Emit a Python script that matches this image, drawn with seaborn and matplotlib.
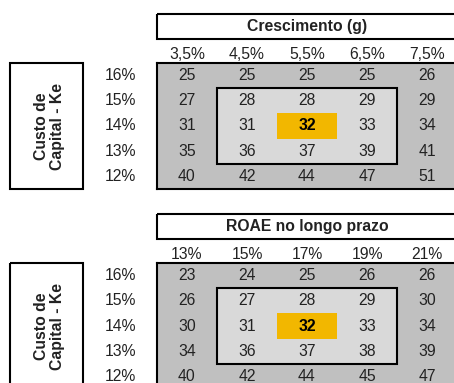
import numpy as np
import matplotlib
matplotlib.use("Agg")
import matplotlib.pyplot as plt
from matplotlib.colors import ListedColormap
from matplotlib.patches import Rectangle
import seaborn as sns

# ---- data ----
ke_labels = ["16%", "15%", "14%", "13%", "12%"]
growth_labels = ["3,5%", "4,5%", "5,5%", "6,5%", "7,5%"]
roae_labels = ["13%", "15%", "17%", "19%", "21%"]
growth_values = [
    [25, 25, 25, 25, 26],
    [27, 28, 28, 29, 29],
    [31, 31, 32, 33, 34],
    [35, 36, 37, 39, 41],
    [40, 42, 44, 47, 51],
]
roae_values = [
    [23, 24, 25, 26, 26],
    [26, 27, 28, 29, 30],
    [30, 31, 32, 33, 34],
    [34, 36, 37, 38, 39],
    [40, 42, 44, 45, 47],
]
titles = ["Crescimento (g)", "ROAE no longo prazo"]
ylabel = "Custo de\nCapital - Ke"

sns.set_theme(style="white")
plt.rcParams["font.family"] = ["Liberation Sans", "DejaVu Sans"]

W, H = 454, 383
DPI = 100
fig = plt.figure(figsize=(W / DPI, H / DPI), dpi=DPI)

OUTER = "#c0c0c0"
INNER = "#d9d9d9"
HILITE = "#f2b700"
TXT = "#222222"
FS = 11.3

def px_axes(left, top, width, height):
    return fig.add_axes([left / W, 1 - (top + height) / H, width / W, height / H])

def draw_table(top_grid, header_top, values, collabels, title):
    vals = np.array(values)
    n_r, n_c = vals.shape
    cat = np.zeros_like(vals, dtype=float)
    cat[1:n_r - 1, 1:n_c - 1] = 1
    cat[n_r // 2, n_c // 2] = 2
    cell_w, cell_h = 60.0, 25.2
    ax = px_axes(157, top_grid, cell_w * n_c, cell_h * n_r)
    sns.heatmap(cat, ax=ax, cmap=ListedColormap([OUTER, INNER, HILITE]),
                vmin=-0.5, vmax=2.5, cbar=False, annot=vals, fmt="d",
                annot_kws={"fontsize": FS, "color": TXT},
                xticklabels=collabels, yticklabels=ke_labels)
    for t in ax.texts:
        if t.get_text() == str(vals[n_r // 2, n_c // 2]):
            x, y = t.get_position()
            if abs(x - (n_c // 2 + 0.5)) < 0.01 and abs(y - (n_r // 2 + 0.5)) < 0.01:
                t.set_fontweight("bold")
                t.set_color("black")
    ax.xaxis.tick_top()
    ax.tick_params(axis="x", length=0, pad=1, labelsize=FS, labelcolor=TXT)
    ax.tick_params(axis="y", length=0, pad=15, labelsize=FS, labelcolor=TXT, rotation=0)
    ax.set_xlabel("")
    ax.set_ylabel("")
    for s in ax.spines.values():
        s.set_visible(True)
        s.set_color("black")
        s.set_linewidth(1.5)
    # inner box
    ax.add_patch(Rectangle((1, 1), n_c - 2, n_r - 2, fill=False, ec="black", lw=1.5, zorder=5))
    # header box
    hdr_h = 24.5 / cell_h
    y_top = -(top_grid - header_top) / cell_h
    ax.add_patch(Rectangle((0, y_top), n_c, hdr_h, fill=False, ec="black",
                           lw=1.5, clip_on=False, zorder=5))
    ax.text(n_c / 2, y_top + hdr_h / 2, title, ha="center", va="center",
            fontsize=FS, fontweight="bold", color=TXT, clip_on=False)
    # left label box
    bx0 = (10 - 157) / cell_w
    bw = 73 / cell_w
    ax.add_patch(Rectangle((bx0, 0), bw, n_r, fill=False, ec="black",
                           lw=1.5, clip_on=False, zorder=5))
    ax.text(bx0 + bw / 2 + 0.05, n_r / 2, ylabel, rotation=90, ha="center", va="center",
            fontsize=FS, fontweight="bold", color=TXT, clip_on=False,
            multialignment="center", linespacing=1.1)
    return ax

draw_table(63, 14, growth_values, growth_labels, titles[0])
draw_table(263, 214, roae_values, roae_labels, titles[1])

fig.savefig("out.png", dpi=DPI, facecolor="white")
